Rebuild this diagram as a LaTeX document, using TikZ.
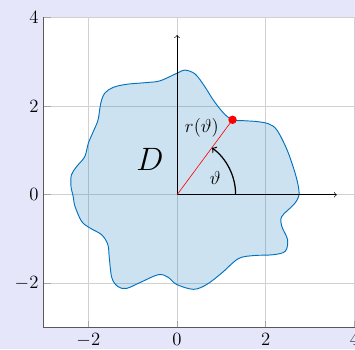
\documentclass[tikz,border=0pt]{standalone}
\usepackage{amsmath,amssymb}
\usepackage{xcolor}
\usepackage{tikz}
\usetikzlibrary{angles,arrows.meta,calc}
\definecolor{FondoLila}{RGB}{230,230,250}
\definecolor{AzulBorde}{RGB}{0,114,189}
\definecolor{GrisRejilla}{RGB}{208,208,208}

\begin{document}
\begin{tikzpicture}[>=to,
  rejilla/.style={GrisRejilla,line width=0.5pt},
  eje/.style={black!65,line width=0.7pt},
  marca/.style={black!35,line width=0.6pt},
  region/.style={draw=AzulBorde,fill=AzulBorde,fill opacity=0.2,line width=0.6pt}]
  \useasboundingbox[fill=FondoLila] (-3.99,-3.475) rectangle (4.01,4.39);
  \fill[white] (-3,-3) rectangle (4,4);
  % rejilla y marcas
  \foreach \t in {-2,0,2,4} {
    \draw[rejilla] (\t,-3)--(\t,4);
    \draw[rejilla] (-3,\t)--(4,\t);
    \draw[marca] (\t,-3)--++(0,0.15);
    \draw[marca] (-3,\t)--++(0.15,0);
    \node[below,font=\large] (tx\t) at (\t,-3) {$\t$};
    \node[left,font=\large] (ty\t) at (-3,\t) {$\t$};
  }
  \draw[eje] (-3,4)--(-3,-3)--(4,-3);
  % la region D
  \path[region] plot[smooth cycle,tension=0.55] coordinates {
    (2.74,-0.04) (2.74,0.15) (2.66,0.49) (2.48,1.01) (2.25,1.46) (2.06,1.60)
    (1.80,1.65) (1.50,1.67) (1.25,1.69) (1.05,1.84) (0.82,2.13) (0.63,2.43)
    (0.41,2.72) (0.18,2.81) (0.02,2.75) (-0.38,2.57) (-0.68,2.53) (-1.14,2.49)
    (-1.44,2.42) (-1.63,2.29) (-1.72,2.06) (-1.78,1.69) (-1.89,1.42) (-2.00,1.16)
    (-2.08,0.86) (-2.26,0.64) (-2.38,0.45) (-2.39,0.19) (-2.34,-0.04) (-2.30,-0.26)
    (-2.15,-0.60) (-1.96,-0.75) (-1.70,-0.90) (-1.56,-1.12) (-1.53,-1.39) (-1.47,-1.87)
    (-1.33,-2.07) (-1.14,-2.11) (-0.84,-1.98) (-0.42,-1.80) (-0.20,-1.86) (-0.01,-2.02)
    (0.37,-2.13) (0.67,-2.02) (1.01,-1.76) (1.38,-1.44) (1.72,-1.37) (2.17,-1.35)
    (2.44,-1.27) (2.49,-1.01) (2.36,-0.71) (2.36,-0.49) (2.63,-0.22)};
  % ejes, radio y angulo
  \coordinate (O) at (0,0);
  \coordinate (X) at (3.6,0);
  \coordinate (Y) at (0,3.6);
  \coordinate (P) at (1.25,1.69);
  \draw[->] (O)--(X);
  \draw[->] (O)--(Y);
  \draw[red] (O)--(P);
  \fill[red] (P) circle (2.7pt);
  \pic[draw,->,thick,angle radius=1.32cm] {angle=X--O--P};
  \node[font=\large] (rlab) at (0.56,1.52) {$r(\vartheta)$};
  \node[font=\large] (thlab) at (0.86,0.38) {$\vartheta$};
  \node[font=\huge] (Dlab) at (-0.61,0.79) {$D$};
\end{tikzpicture}
\end{document}
